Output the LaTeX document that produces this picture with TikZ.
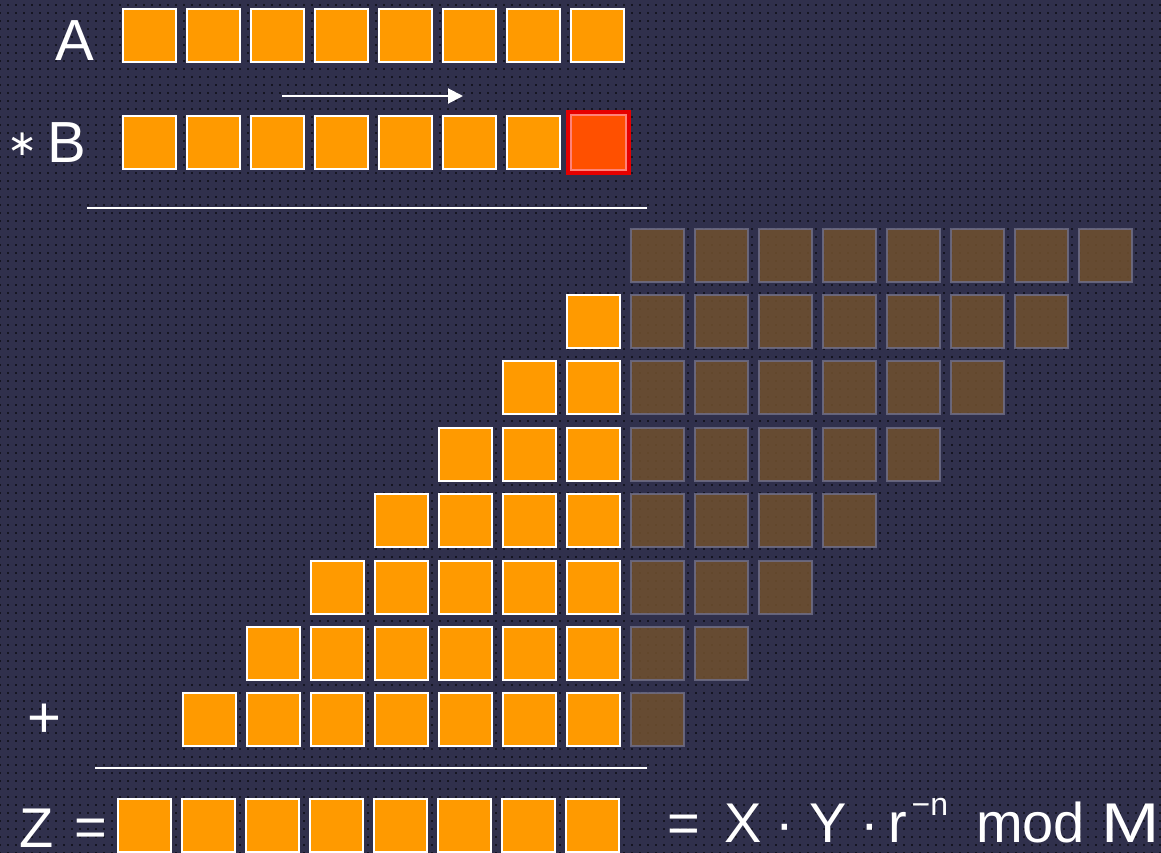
\documentclass[tikz,border=0pt]{standalone}
\usepackage{fontspec}
\setmainfont{Liberation Sans}
\newfontfamily\symfont{DejaVu Sans}
\usetikzlibrary{arrows.meta,patterns}
\definecolor{bgc}{RGB}{48,48,76}
\definecolor{org}{RGB}{255,154,0}
\definecolor{brn}{RGB}{112,80,46}
\definecolor{brd}{RGB}{112,112,138}
\definecolor{redb}{RGB}{230,0,0}
\definecolor{redf}{RGB}{255,80,0}
\definecolor{redl}{RGB}{255,130,120}
\pgfdeclarepatternformonly{bgdots}{\pgfqpoint{-1pt}{-1pt}}{\pgfqpoint{1pt}{1pt}}{\pgfqpoint{8pt}{8pt}}{\pgfpathrectangle{\pgfqpoint{-1pt}{-1pt}}{\pgfqpoint{2pt}{2pt}}\pgfusepath{fill}}
\tikzset{o/.style={draw=white,line width=2pt,fill=org,minimum size=53pt,inner sep=0pt,outer sep=0pt},
 br/.style={draw=brd,line width=2pt,fill=brn,fill opacity=.85,draw opacity=.8,minimum size=53pt,inner sep=0pt,outer sep=0pt},
 rd/.style={draw=redb,line width=4pt,fill=redf,minimum size=61pt,inner sep=0pt,outer sep=0pt},
 t/.style={text=white,font=\fontsize{58}{60}\selectfont,inner sep=0pt},
 tb/.style={t,font=\fontsize{56}{58}\selectfont},
 ln/.style={draw=white,line width=2pt},
 ar/.style={white,line width=2pt,-{Triangle[length=15pt,width=15pt]}}}
\newcommand{\supn}[1]{\raisebox{27pt}{\fontsize{32}{32}\selectfont #1}}

\begin{document}
\begin{tikzpicture}[x=1pt,y=-1pt]
\useasboundingbox (0,0) rectangle (1161,853);
\fill[bgc] (0,0) rectangle (1161,853);
\fill[pattern=bgdots,pattern color=black,fill opacity=.55] (0,0) rectangle (1161,853);
% operands
\node[t,anchor=base] (la) at (75,61) {A};
\node[t,anchor=base] (lb) at (67,163) {B};
\node[t,font=\symfont\fontsize{36}{38}\selectfont] (ls) at (23,144) {∗};
\foreach \i in {0,...,7}{
 \node[o] (a\i) at (149.5+64*\i,35.5) {};
 \ifnum\i<7 \node[o] (b\i) at (149.5+64*\i,142.5) {};\fi
 \node[o] (z\i) at (144+64*\i,825.5) {};
}
\node[rd] (b7) at (598.5,142.5) {};
\draw[redl,line width=1.5pt] ([shift={(3,3)}]b7.north west) rectangle ([shift={(-3,-3)}]b7.south east);
\coordinate (s0) at (282,96); \coordinate (s1) at (463,96);
\draw[ar] (s0)--(s1);
\coordinate (r1w) at (87,208); \coordinate (r1e) at (647,208);
\draw[ln] (r1w)--(r1e);
% partial products
\foreach \r in {0,...,7}{
 \pgfmathsetmacro\yy{255+66.4*\r}
 \pgfmathtruncatemacro\nb{7-\r}
 \foreach \k in {0,...,\nb} \node[br] (g\r-\k) at (657+64*\k,\yy) {};
 \ifnum\r>0 \foreach \k in {1,...,\r} \node[o] (p\r-\k) at (657-64*\k,\yy) {};\fi
}
\node[t] (lp) at (44,721) {+};
\coordinate (r2w) at (95,768); \coordinate (r2e) at (647,768);
\draw[ln] (r2w)--(r2e);
% result
\node[tb,anchor=base] (lz) at (37,847) {Z};
\node[tb] (le) at (91,833) {=};
\node[tb,anchor=base west] (lf) at (667,842) {=\hspace{25pt}X\hspace{12.8pt}·\hspace{16.2pt}Y\hspace{12.8pt}·\hspace{10.2pt}r\hspace{4pt}\supn{−n}\hspace{28pt}mod\hspace{17pt}\scalebox{1.25}[1]{M}};
\end{tikzpicture}
\end{document}
